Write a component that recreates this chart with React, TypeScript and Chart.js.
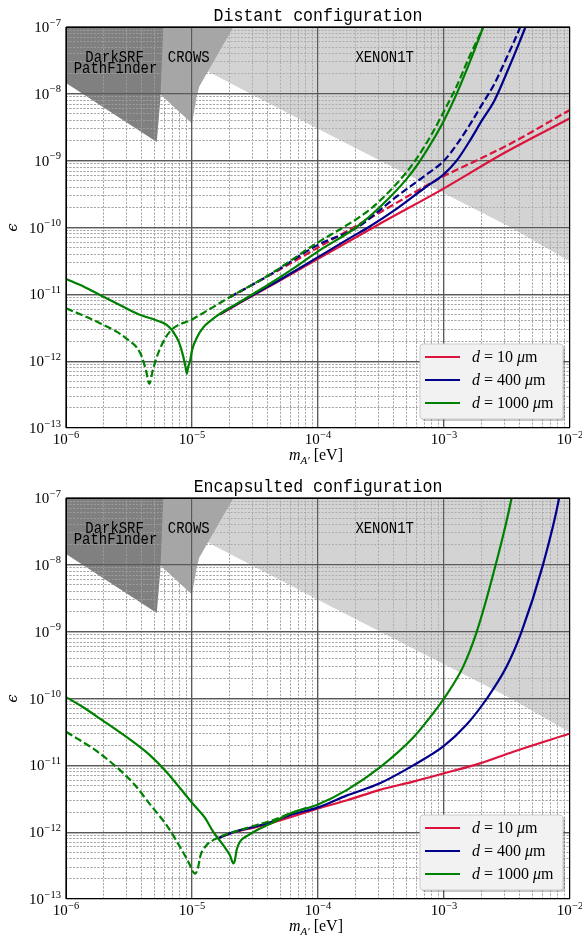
import React, { useEffect, useRef } from 'react';
import { Chart, registerables } from 'chart.js';

Chart.register(...registerables);

// ---------------- axes / labels ----------------
const xDecades = [-6, -5, -4, -3, -2];
const yDecades = [-13, -12, -11, -10, -9, -8, -7];
const minorSteps = [2, 3, 4, 5, 6, 7, 8, 9];
const panelTitles = ['Distant configuration', 'Encapsulted configuration'];
const legendDistances = ['10', '400', '1000'];

// ---------------- exclusion regions (lower boundary, filled up to the top) ----------------
const darkSrfMass = [1e-6, 5.25e-6, 5.6e-6, 5.92e-6];
const darkSrfEps = [1.45e-8, 1.9e-9, 8.0e-9, 1e-7];
const crowsMass = [5.4e-6, 1.0e-5, 1.09e-5, 1.14e-5, 2.13e-5];
const crowsEps = [1.05e-8, 3.6e-9, 9.1e-9, 1.28e-8, 1e-7];
const xenonMass = [2.8e-6, 1.35e-5, 1.245e-4, 3.34e-3, 1e-2];
const xenonEps = [1e-7, 2.14e-8, 2.42e-9, 1.02e-10, 3.1e-11];

// ---------------- distant configuration ----------------
const distGreenSolidMass = [1e-6, 1.4e-6, 1.86e-6, 3.0e-6, 3.9e-6, 5.2e-6, 6.3e-6, 7.1e-6, 7.9e-6, 8.5e-6, 8.9e-6, 9.1e-6, 9.3e-6, 9.7e-6, 1.0e-5, 1.1e-5, 1.23e-5, 1.4e-5, 1.66e-5, 2.26e-5, 3.07e-5, 4.17e-5, 6.3e-5, 1e-4, 2e-4, 3.16e-4, 5.0e-4, 6.3e-4, 7.9e-4, 1e-3, 1.26e-3, 1.58e-3, 2.0e-3, 2.24e-3];
const distGreenSolidEps = [1.7e-11, 1.29e-11, 9.8e-12, 6.2e-12, 4.9e-12, 4.1e-12, 3.5e-12, 2.75e-12, 1.9e-12, 1.2e-12, 8.0e-13, 6.5e-13, 8.0e-13, 1.05e-12, 1.45e-12, 2.3e-12, 3.2e-12, 4.0e-12, 5.1e-12, 7.2e-12, 1.02e-11, 1.45e-11, 2.4e-11, 4.4e-11, 1.0e-10, 2.1e-10, 5.2e-10, 9.3e-10, 1.82e-9, 4.0e-9, 1.0e-8, 2.8e-8, 8.9e-8, 1.66e-7];
const distGreenDashMass = [1e-6, 1.86e-6, 3.0e-6, 3.9e-6, 4.3e-6, 4.58e-6, 4.9e-6, 5.5e-6, 6.7e-6, 1.0e-5, 2e-5, 4.17e-5, 1e-4, 1.58e-4, 2.3e-4, 3.16e-4, 5.0e-4, 6.3e-4, 7.9e-4, 1e-3, 1.26e-3, 1.58e-3, 2.04e-3, 2.3e-3];
const distGreenDashEps = [6.2e-12, 3.7e-12, 2.2e-12, 1.3e-12, 7.5e-13, 4.6e-13, 7.5e-13, 1.45e-12, 2.8e-12, 4.2e-12, 9.1e-12, 2.0e-11, 6.0e-11, 1e-10, 1.58e-10, 2.6e-10, 6.6e-10, 1.2e-9, 2.4e-9, 5.5e-9, 1.3e-8, 3.5e-8, 1e-7, 1.9e-7];
const distBlueSolidMass = [1.66e-5, 2.26e-5, 4.17e-5, 1e-4, 1.8e-4, 2.5e-4, 4.2e-4, 7.0e-4, 1e-3, 1.26e-3, 1.58e-3, 2.0e-3, 2.51e-3, 3.16e-3, 3.98e-3, 4.47e-3, 5.0e-3];
const distBlueSolidEps = [5.05e-12, 7.1e-12, 1.36e-11, 3.6e-11, 7.0e-11, 1.0e-10, 1.9e-10, 3.9e-10, 6.3e-10, 1.0e-9, 1.9e-9, 4.0e-9, 7.9e-9, 2.1e-8, 6.0e-8, 1.05e-7, 2e-7];
const distBlueDashMass = [2e-5, 4.17e-5, 1e-4, 2.04e-4, 4.2e-4, 7.0e-4, 1e-3, 1.26e-3, 1.58e-3, 2.0e-3, 2.51e-3, 3.16e-3, 3.98e-3, 4.4e-3];
const distBlueDashEps = [9.1e-12, 1.97e-11, 5.5e-11, 1.0e-10, 2.9e-10, 5.9e-10, 1.0e-9, 1.74e-9, 3.3e-9, 6.9e-9, 1.41e-8, 3.55e-8, 9.5e-8, 1.6e-7];
const distRedSolidMass = [1.66e-5, 2.26e-5, 4.17e-5, 1e-4, 3e-4, 1e-3, 3e-3, 1e-2];
const distRedSolidEps = [5.0e-12, 7.0e-12, 1.33e-11, 3.4e-11, 1.1e-10, 3.85e-10, 1.3e-9, 4.3e-9];
const distRedDashMass = [2e-5, 4.17e-5, 1e-4, 3.2e-4, 1e-3, 1.8e-3, 3.34e-3, 1e-2];
const distRedDashEps = [9.1e-12, 1.95e-11, 5.0e-11, 1.74e-10, 5.9e-10, 1.0e-9, 1.78e-9, 5.75e-9];

// ---------------- encapsulated configuration ----------------
const encGreenSolidMass = [1e-6, 1.37e-6, 1.86e-6, 3.42e-6, 4.65e-6, 6.3e-6, 1e-5, 1.26e-5, 1.48e-5, 1.78e-5, 2.0e-5, 2.13e-5, 2.19e-5, 2.26e-5, 2.4e-5, 2.72e-5, 3.26e-5, 4.43e-5, 6.0e-5, 1e-4, 1.7e-4, 3.1e-4, 5.7e-4, 8.2e-4, 1e-3, 1.42e-3, 1.82e-3, 2.57e-3, 3.44e-3, 3.8e-3];
const encGreenSolidEps = [1.05e-10, 7.4e-11, 5.0e-11, 2.24e-11, 1.41e-11, 7.9e-12, 2.75e-12, 1.66e-12, 1.0e-12, 6.3e-13, 4.5e-13, 3.4e-13, 3.8e-13, 5.4e-13, 7.2e-13, 8.7e-13, 1.07e-12, 1.41e-12, 1.9e-12, 2.6e-12, 4.3e-12, 9.3e-12, 2.6e-11, 6.0e-11, 1.0e-10, 3.0e-10, 1e-9, 1e-8, 1e-7, 3e-7];
const encGreenDashMass = [1e-6, 1.86e-6, 3.42e-6, 4.65e-6, 6.3e-6, 8.5e-6, 9.5e-6, 1.0e-5, 1.06e-5, 1.12e-5, 1.16e-5, 1.27e-5, 1.57e-5, 2.13e-5, 3.26e-5, 4.43e-5, 6.0e-5, 8.1e-5];
const encGreenDashEps = [3.2e-11, 1.5e-11, 5.4e-12, 2.6e-12, 1.26e-12, 5.0e-13, 3.4e-13, 2.7e-13, 2.4e-13, 3.0e-13, 4.3e-13, 6.0e-13, 8.1e-13, 1.0e-12, 1.28e-12, 1.52e-12, 1.9e-12, 2.3e-12];
const encBlueSolidMass = [1.6e-5, 2.13e-5, 3.26e-5, 4.43e-5, 6e-5, 1e-4, 1.7e-4, 3.1e-4, 5.7e-4, 1e-3, 1.5e-3, 2.19e-3, 3.14e-3, 4.13e-3, 6.1e-3, 8.2e-3, 9e-3];
const encBlueSolidEps = [8.1e-13, 1.0e-12, 1.23e-12, 1.45e-12, 1.8e-12, 2.35e-12, 3.55e-12, 5.4e-12, 1.0e-11, 1.95e-11, 4.0e-11, 1e-10, 3.0e-10, 1e-9, 1e-8, 1e-7, 3e-7];
const encRedSolidMass = [1.6e-5, 2.13e-5, 3.26e-5, 4.43e-5, 1e-4, 1.7e-4, 3.1e-4, 5.7e-4, 1e-3, 1.93e-3, 3.55e-3, 1e-2];
const encRedSolidEps = [8.1e-13, 9.9e-13, 1.2e-12, 1.4e-12, 2.26e-12, 3.0e-12, 4.3e-12, 5.7e-12, 7.6e-12, 1.07e-11, 1.6e-11, 3.0e-11];

// ---------------- styles ----------------
const RED = '#dc143c';
const BLUE = '#00008b';
const GREEN = '#008000';
const SERIF = '"Liberation Serif", "Times New Roman", serif';
const MONO = '"Liberation Mono", "Courier New", monospace';

type Curve = { mass: number[]; eps: number[]; color: string; dashed: boolean; order: number };

const distantCurves: Curve[] = [
  { mass: distRedDashMass, eps: distRedDashEps, color: RED, dashed: true, order: 6 },
  { mass: distRedSolidMass, eps: distRedSolidEps, color: RED, dashed: false, order: 5 },
  { mass: distBlueDashMass, eps: distBlueDashEps, color: BLUE, dashed: true, order: 4 },
  { mass: distBlueSolidMass, eps: distBlueSolidEps, color: BLUE, dashed: false, order: 3 },
  { mass: distGreenDashMass, eps: distGreenDashEps, color: GREEN, dashed: true, order: 2 },
  { mass: distGreenSolidMass, eps: distGreenSolidEps, color: GREEN, dashed: false, order: 1 },
];
const encapsulatedCurves: Curve[] = [
  { mass: encRedSolidMass, eps: encRedSolidEps, color: RED, dashed: false, order: 5 },
  { mass: encBlueSolidMass, eps: encBlueSolidEps, color: BLUE, dashed: false, order: 3 },
  { mass: encGreenDashMass, eps: encGreenDashEps, color: GREEN, dashed: true, order: 2 },
  { mass: encGreenSolidMass, eps: encGreenSolidEps, color: GREEN, dashed: false, order: 1 },
];
const legendColors = [RED, BLUE, GREEN];

function pts(mass: number[], eps: number[]) {
  return mass.map((m, i) => ({ x: m, y: eps[i] }));
}

function logTicks(decades: number[]) {
  const t: { value: number; major: boolean }[] = [];
  decades.forEach((d, i) => {
    t.push({ value: Number('1e' + d), major: true });
    if (i < decades.length - 1) {
      minorSteps.forEach((k) => t.push({ value: Number(k + 'e' + d), major: false }));
    }
  });
  return t;
}

function drawPow10(ctx: CanvasRenderingContext2D, exp: number, x: number, baseY: number, align: 'right' | 'center') {
  const base = '10';
  const sup = '\u2212' + String(-exp);
  ctx.font = `15px ${SERIF}`;
  const wb = ctx.measureText(base).width;
  ctx.font = `10.5px ${SERIF}`;
  const ws = ctx.measureText(sup).width;
  const total = wb + ws + 0.5;
  const x0 = align === 'right' ? x - total : x - total / 2;
  ctx.textAlign = 'left';
  ctx.font = `15px ${SERIF}`;
  ctx.fillText(base, x0, baseY);
  ctx.font = `10.5px ${SERIF}`;
  ctx.fillText(sup, x0 + wb + 0.5, baseY - 6.5);
}

function drawMono(ctx: CanvasRenderingContext2D, text: string, cx: number, base: number, size: number, charW: number) {
  ctx.font = `${size}px ${MONO}`;
  const w = ctx.measureText(text).width;
  const sx = (charW * text.length) / w;
  ctx.save();
  ctx.translate(cx, base);
  ctx.scale(sx, 1);
  ctx.textAlign = 'center';
  ctx.textBaseline = 'alphabetic';
  ctx.fillStyle = '#000';
  ctx.fillText(text, 0, 0);
  ctx.restore();
}

function drawPieces(ctx: CanvasRenderingContext2D, pieces: { t: string; f: string; dy?: number }[], x: number, y: number, align: 'left' | 'center') {
  let total = 0;
  pieces.forEach((p) => {
    ctx.font = p.f;
    total += ctx.measureText(p.t).width;
  });
  let cx = align === 'center' ? x - total / 2 : x;
  ctx.textAlign = 'left';
  pieces.forEach((p) => {
    ctx.font = p.f;
    ctx.fillText(p.t, cx, y + (p.dy || 0));
    cx += ctx.measureText(p.t).width;
  });
}

function makePanelPlugin(panel: number) {
  return {
    id: 'panelDecor' + panel,
    afterDatasetDraw(chart: any, args: any) {
      // grid over the exclusion regions, under the curves
      if (args.index === 2) {
        chart.scales.x.drawGrid(chart.chartArea);
        chart.scales.y.drawGrid(chart.chartArea);
      }
    },
    afterDraw(chart: any) {
      const ctx: CanvasRenderingContext2D = chart.ctx;
      const a = chart.chartArea;
      const xs = chart.scales.x;
      const ys = chart.scales.y;
      ctx.save();
      ctx.fillStyle = '#000';
      ctx.textBaseline = 'alphabetic';

      // frame
      ctx.strokeStyle = '#000';
      ctx.lineWidth = 1;
      ctx.setLineDash([]);
      ctx.strokeRect(a.left + 0.5, a.top + 0.5, a.right - a.left - 1, a.bottom - a.top - 1);

      // title
      const cx = (a.left + a.right) / 2;
      drawMono(ctx, panelTitles[panel], cx, a.top - 6, 18, 9.95);

      // region labels
      const lbl = (t: string, m: number, e: number) => drawMono(ctx, t, xs.getPixelForValue(m), ys.getPixelForValue(e), 16.5, 8.35);
      lbl('DarkSRF', 2.43e-6, 2.96e-8);
      lbl('PathFinder', 2.47e-6, 2.03e-8);
      lbl('CROWS', 9.42e-6, 2.96e-8);
      lbl('XENON1T', 3.38e-4, 2.96e-8);

      // tick labels
      ctx.fillStyle = '#000';
      yDecades.forEach((d) => {
        const py = ys.getPixelForValue(Number('1e' + d));
        drawPow10(ctx, d, a.left - 5, py + 5, 'right');
      });
      xDecades.forEach((d) => {
        const px = xs.getPixelForValue(Number('1e' + d));
        drawPow10(ctx, d, px, a.bottom + 16, 'center');
      });

      // x axis title  m_{A'} [eV]
      drawPieces(
        ctx,
        [
          { t: 'm', f: `italic 16px ${SERIF}` },
          { t: 'A\u2032', f: `italic 11px ${SERIF}`, dy: 3.5 },
          { t: ' [eV]', f: `16px ${SERIF}` },
        ],
        cx - 2,
        a.bottom + 32,
        'center'
      );

      // y axis title
      ctx.save();
      ctx.translate(17, (a.top + a.bottom) / 2);
      ctx.rotate(-Math.PI / 2);
      ctx.font = `italic 15px "DejaVu Serif", ${SERIF}`;
      ctx.textAlign = 'center';
      ctx.fillText('\u03f5', 0, 0);
      ctx.restore();

      // legend
      const lw = 143;
      const lh = 75;
      const lx = a.right - 7 - lw;
      const ly = a.bottom - 9 - lh;
      const rr = (x: number, y: number, w: number, h: number, r: number) => {
        ctx.beginPath();
        ctx.moveTo(x + r, y);
        ctx.lineTo(x + w - r, y);
        ctx.quadraticCurveTo(x + w, y, x + w, y + r);
        ctx.lineTo(x + w, y + h - r);
        ctx.quadraticCurveTo(x + w, y + h, x + w - r, y + h);
        ctx.lineTo(x + r, y + h);
        ctx.quadraticCurveTo(x, y + h, x, y + h - r);
        ctx.lineTo(x, y + r);
        ctx.quadraticCurveTo(x, y, x + r, y);
        ctx.closePath();
      };
      rr(lx + 2, ly + 2, lw, lh, 3);
      ctx.fillStyle = 'rgba(0,0,0,0.22)';
      ctx.fill();
      rr(lx, ly, lw, lh, 3);
      ctx.fillStyle = '#f2f2f2';
      ctx.fill();
      ctx.strokeStyle = '#cccccc';
      ctx.lineWidth = 1;
      ctx.stroke();
      legendDistances.forEach((d, i) => {
        const yy = ly + 13 + i * 23;
        ctx.strokeStyle = legendColors[i];
        ctx.lineWidth = 2.2;
        ctx.beginPath();
        ctx.moveTo(lx + 5, yy);
        ctx.lineTo(lx + 40, yy);
        ctx.stroke();
        ctx.fillStyle = '#000';
        drawPieces(
          ctx,
          [
            { t: 'd', f: `italic 16px ${SERIF}` },
            { t: ' = ', f: `16px ${SERIF}` },
            { t: d + ' ', f: `16px ${SERIF}` },
            { t: '\u03bc', f: `italic 16px ${SERIF}` },
            { t: 'm', f: `16px ${SERIF}` },
          ],
          lx + 52,
          yy + 5,
          'left'
        );
      });
      ctx.restore();
    },
  };
}

function makeChart(canvas: HTMLCanvasElement, panel: number) {
  const curves = panel === 0 ? distantCurves : encapsulatedCurves;
  const region = (m: number[], e: number[], color: string, order: number) => ({
    data: pts(m, e),
    backgroundColor: color,
    borderColor: 'rgba(0,0,0,0)',
    borderWidth: 0,
    pointRadius: 0,
    fill: 'end',
    tension: 0,
    order,
  });
  const datasets: any[] = [
    region(xenonMass, xenonEps, '#d3d3d3', 13),
    region(crowsMass, crowsEps, '#a6a6a6', 12),
    region(darkSrfMass, darkSrfEps, '#808080', 11),
    ...curves.map((c) => ({
      data: pts(c.mass, c.eps),
      borderColor: c.color,
      backgroundColor: c.color,
      borderWidth: 2.2,
      borderDash: c.dashed ? [7.4, 3.2] : [],
      pointRadius: 0,
      fill: false,
      cubicInterpolationMode: 'monotone',
      order: c.order,
    })),
  ];
  const gridCommon = {
    color: (c: any) => (c.tick && c.tick.major ? '#5a5a5a' : '#a3a3a3'),
    lineWidth: (c: any) => (c.tick && c.tick.major ? 1.2 : 0.8),
    drawTicks: false,
  };
  const borderCommon = {
    display: false,
    dash: (c: any) => (c.tick && c.tick.major ? [] : [2, 1.5]),
  };
  const padTop = panel === 0 ? 27 : 28;
  return new Chart(canvas, {
    type: 'line',
    data: { datasets },
    options: {
      animation: false,
      responsive: false,
      devicePixelRatio: 1,
      events: [],
      layout: { padding: { left: 66, right: 12, top: padTop, bottom: 470 - padTop - 401 } },
      plugins: { legend: { display: false }, tooltip: { enabled: false }, title: { display: false } },
      scales: {
        x: {
          type: 'logarithmic',
          min: 1e-6,
          max: 1e-2,
          afterBuildTicks: (s: any) => {
            s.ticks = logTicks(xDecades);
          },
          ticks: { display: false },
          grid: gridCommon,
          border: borderCommon,
        },
        y: {
          type: 'logarithmic',
          min: 1e-13,
          max: 1e-7,
          afterBuildTicks: (s: any) => {
            s.ticks = logTicks(yDecades);
          },
          ticks: { display: false },
          grid: gridCommon,
          border: borderCommon,
        },
      },
    } as any,
    plugins: [makePanelPlugin(panel)],
  });
}

export default function App() {
  const topRef = useRef<HTMLCanvasElement>(null);
  const botRef = useRef<HTMLCanvasElement>(null);
  useEffect(() => {
    const c1 = makeChart(topRef.current as HTMLCanvasElement, 0);
    const c2 = makeChart(botRef.current as HTMLCanvasElement, 1);
    return () => {
      c1.destroy();
      c2.destroy();
    };
  }, []);
  return (
    <div style={{ position: 'absolute', left: 0, top: 0, width: 582, height: 940, background: '#ffffff' }}>
      <canvas ref={topRef} width={582} height={470} style={{ display: 'block', width: 582, height: 470 }} />
      <canvas ref={botRef} width={582} height={470} style={{ display: 'block', width: 582, height: 470 }} />
    </div>
  );
}
